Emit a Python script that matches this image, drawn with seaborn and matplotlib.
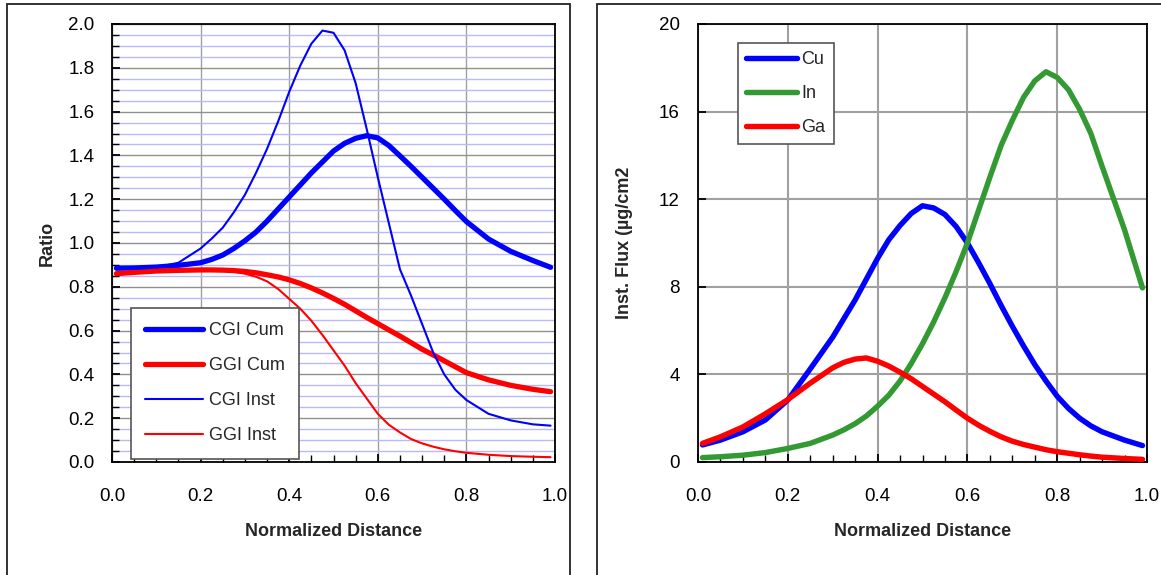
import numpy as np
import pandas as pd
import matplotlib
matplotlib.use("Agg")
import matplotlib.pyplot as plt
import seaborn as sns
from matplotlib.patches import Rectangle
from matplotlib.ticker import MultipleLocator, FormatStrFormatter

# ---------------- data (left panel: ratios) ----------------
x_left = [0.01, 0.05, 0.1, 0.15, 0.2, 0.225, 0.25, 0.275, 0.3, 0.325, 0.35, 0.375, 0.4, 0.425,
          0.45, 0.475, 0.5, 0.525, 0.55, 0.575, 0.6, 0.625, 0.65, 0.675, 0.7, 0.725, 0.75,
          0.775, 0.8, 0.85, 0.9, 0.95, 0.99]
cgi_cum = [0.885, 0.886, 0.89, 0.898, 0.91, 0.925, 0.945, 0.975, 1.01, 1.05, 1.10, 1.155, 1.21,
           1.265, 1.32, 1.37, 1.42, 1.455, 1.478, 1.49, 1.48, 1.445, 1.398, 1.35, 1.30, 1.25,
           1.20, 1.148, 1.098, 1.018, 0.962, 0.92, 0.889]
ggi_cum = [0.86, 0.866, 0.872, 0.875, 0.877, 0.877, 0.876, 0.874, 0.87, 0.864, 0.855, 0.845,
           0.832, 0.815, 0.795, 0.772, 0.747, 0.72, 0.69, 0.66, 0.632, 0.603, 0.575, 0.545,
           0.515, 0.489, 0.462, 0.435, 0.408, 0.375, 0.35, 0.332, 0.321]
cgi_inst = [0.88, 0.882, 0.888, 0.91, 0.975, 1.02, 1.07, 1.14, 1.22, 1.32, 1.43, 1.555, 1.69,
            1.81, 1.91, 1.97, 1.96, 1.88, 1.73, 1.52, 1.30, 1.09, 0.88, 0.76, 0.63, 0.50, 0.40,
            0.33, 0.283, 0.22, 0.19, 0.172, 0.166]
ggi_inst = [0.86, 0.866, 0.872, 0.875, 0.876, 0.876, 0.874, 0.869, 0.86, 0.846, 0.825, 0.79,
            0.745, 0.70, 0.645, 0.58, 0.51, 0.44, 0.36, 0.29, 0.22, 0.17, 0.135, 0.105, 0.085,
            0.07, 0.058, 0.049, 0.042, 0.033, 0.027, 0.024, 0.022]
left_labels = ["CGI Cum", "GGI Cum", "CGI Inst", "GGI Inst"]

# ---------------- data (right panel: instantaneous flux) ----------------
x_right = [0.01, 0.05, 0.1, 0.15, 0.2, 0.25, 0.3, 0.325, 0.35, 0.375, 0.4, 0.425, 0.45, 0.475,
           0.5, 0.525, 0.55, 0.575, 0.6, 0.625, 0.65, 0.675, 0.7, 0.725, 0.75, 0.775, 0.8,
           0.825, 0.85, 0.875, 0.9, 0.95, 0.99]
cu_flux = [0.78, 1.0, 1.38, 1.92, 2.83, 4.25, 5.7, 6.55, 7.4, 8.35, 9.3, 10.15, 10.8, 11.35,
           11.7, 11.6, 11.3, 10.75, 10.0, 9.1, 8.15, 7.15, 6.2, 5.3, 4.45, 3.7, 3.0, 2.45,
           2.0, 1.65, 1.38, 1.0, 0.75]
in_flux = [0.2, 0.24, 0.31, 0.43, 0.62, 0.85, 1.23, 1.47, 1.75, 2.1, 2.55, 3.05, 3.7, 4.5,
           5.4, 6.4, 7.5, 8.7, 10.0, 11.5, 13.0, 14.45, 15.6, 16.65, 17.4, 17.82, 17.56, 17.0,
           16.1, 15.0, 13.5, 10.6, 7.95]
ga_flux = [0.85, 1.15, 1.6, 2.2, 2.85, 3.6, 4.3, 4.55, 4.7, 4.75, 4.6, 4.38, 4.1, 3.8, 3.45,
           3.1, 2.75, 2.37, 2.0, 1.68, 1.4, 1.15, 0.95, 0.8, 0.68, 0.56, 0.47, 0.4, 0.33, 0.27,
           0.22, 0.16, 0.12]
right_labels = ["Cu", "In", "Ga"]

x_ticks = [0.0, 0.2, 0.4, 0.6, 0.8, 1.0]

sns.set_style("white")
plt.rcParams['font.family'] = ['Liberation Sans', 'DejaVu Sans']

fig = plt.figure(figsize=(11.61, 5.75), dpi=100)

# panel frames
fig.add_artist(Rectangle((7 / 1161, -0.02), 563 / 1161, 1.02 - 4 / 575, transform=fig.transFigure,
                         fill=False, edgecolor="#222222", lw=1.3, zorder=0))
fig.add_artist(Rectangle((597 / 1161, -0.02), 0.6, 1.02 - 4 / 575, transform=fig.transFigure,
                         fill=False, edgecolor="#222222", lw=1.3, zorder=0))

axL = fig.add_axes([112 / 1161, (575 - 462) / 575, 443 / 1161, 438 / 575])
axR = fig.add_axes([698 / 1161, (575 - 462) / 575, 449 / 1161, 438 / 575])

TICK_FS = 13.5
LAB_FS = 13
LEG_FS = 13

# ---------- left panel ----------
dfL = pd.DataFrame({"x": x_left, "CGI Cum": cgi_cum, "GGI Cum": ggi_cum,
                    "CGI Inst": cgi_inst, "GGI Inst": ggi_inst})
styleL = {"CGI Cum": ("#0000ff", 3.8), "GGI Cum": ("#ff0000", 3.8),
          "CGI Inst": ("#0000ff", 1.5), "GGI Inst": ("#ff0000", 1.5)}
for name in left_labels:
    c, lw = styleL[name]
    sns.lineplot(data=dfL, x="x", y=name, ax=axL, color=c, lw=lw, label=name,
                 sort=False, solid_capstyle="round", solid_joinstyle="round", zorder=3)

axL.set_xlim(0, 1)
axL.set_ylim(0, 2)
axL.set_xticks(x_ticks)
axL.xaxis.set_minor_locator(MultipleLocator(0.05))
axL.yaxis.set_major_locator(MultipleLocator(0.2))
axL.yaxis.set_minor_locator(MultipleLocator(0.05))
axL.xaxis.set_major_formatter(FormatStrFormatter("%.1f"))
axL.yaxis.set_major_formatter(FormatStrFormatter("%.1f"))
axL.grid(which="minor", axis="y", color="#b8b8ff", lw=1.0, zorder=0)
axL.grid(which="major", axis="y", color="#909090", lw=1.0, zorder=1)
axL.grid(which="major", axis="x", color="#a0a0a0", lw=1.0, zorder=1)
axL.set_axisbelow(True)
axL.tick_params(which="both", direction="in", bottom=True, left=True, top=False, right=False,
                labelsize=TICK_FS, colors="black")
axL.tick_params(which="major", length=6, width=1.3)
axL.tick_params(which="minor", length=5, width=1.0)
axL.tick_params(axis="x", which="major", pad=19)
axL.tick_params(axis="y", which="major", pad=12.5)
for s in axL.spines.values():
    s.set_color("black")
    s.set_linewidth(1.3)
axL.set_xlabel("Normalized Distance", fontsize=LAB_FS, fontweight="bold")
axL.set_ylabel("Ratio", fontsize=LAB_FS, fontweight="bold")
axL.xaxis.set_label_coords(0.5, -0.14)
axL.yaxis.set_label_coords(-0.128, 0.5)
legL = axL.legend(loc="lower left", bbox_to_anchor=(0.042, 0.007), borderaxespad=0,
                  fontsize=LEG_FS, handlelength=3.2, handletextpad=0.35, labelspacing=1.0,
                  borderpad=0.8, fancybox=False, framealpha=1, edgecolor="#555555")
legL.get_frame().set_linewidth(1.2)

# ---------- right panel ----------
dfR = pd.DataFrame({"x": x_right, "Cu": cu_flux, "In": in_flux, "Ga": ga_flux})
colR = {"Cu": "#0000ff", "In": "#339933", "Ga": "#ff0000"}
for name in right_labels:
    sns.lineplot(data=dfR, x="x", y=name, ax=axR, color=colR[name], lw=3.9, label=name,
                 sort=False, solid_capstyle="round", solid_joinstyle="round", zorder=3)

axR.set_xlim(0, 1)
axR.set_ylim(0, 20)
axR.set_xticks(x_ticks)
axR.xaxis.set_minor_locator(MultipleLocator(0.05))
axR.yaxis.set_major_locator(MultipleLocator(4))
axR.yaxis.set_minor_locator(MultipleLocator(2))
axR.xaxis.set_major_formatter(FormatStrFormatter("%.1f"))
axR.grid(which="major", color="#a0a0a0", lw=1.5, zorder=1)
axR.set_axisbelow(True)
axR.tick_params(which="both", direction="in", bottom=True, left=True, top=False, right=False,
                labelsize=TICK_FS, colors="black")
axR.tick_params(which="major", length=6, width=1.3)
axR.tick_params(which="minor", length=5, width=1.0)
axR.tick_params(axis="y", which="minor", length=0)
axR.tick_params(axis="x", which="major", pad=19)
axR.tick_params(axis="y", which="major", pad=13)
for s in axR.spines.values():
    s.set_color("black")
    s.set_linewidth(1.3)
axR.set_xlabel("Normalized Distance", fontsize=LAB_FS, fontweight="bold")
axR.set_ylabel("Inst. Flux (µg/cm2", fontsize=LAB_FS, fontweight="bold")
axR.xaxis.set_label_coords(0.5, -0.14)
axR.yaxis.set_label_coords(-0.145, 0.5)
legR = axR.legend(loc="upper left", bbox_to_anchor=(0.088, 0.957), borderaxespad=0,
                  fontsize=LEG_FS, handlelength=2.85, handletextpad=0.25, labelspacing=0.95,
                  borderpad=0.45, fancybox=False, framealpha=1, edgecolor="#555555")
legR.get_frame().set_linewidth(1.2)

fig.savefig("out.png", dpi=100)
